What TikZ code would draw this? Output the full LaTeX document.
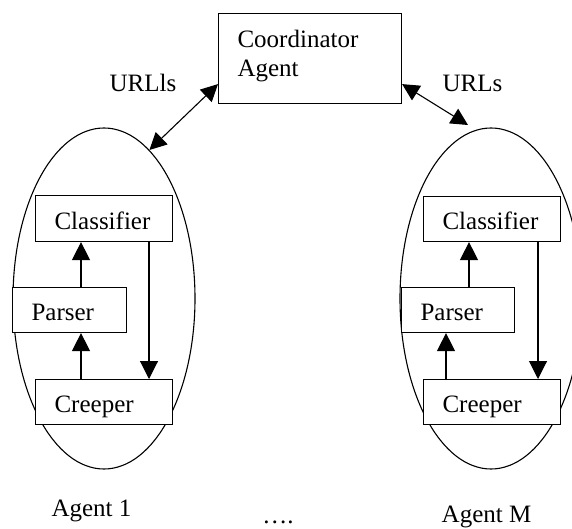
\documentclass[tikz,border=0pt]{standalone}
\usepackage{fontspec}
\setmainfont{Liberation Serif}
\usetikzlibrary{arrows.meta,shapes.geometric}
\begin{document}
\begin{tikzpicture}[x=1pt,y=-1pt,
  every node/.style={font=\fontsize{25}{29}\selectfont},
  box/.style={draw, fill=white, line width=1.1pt, inner sep=0pt, anchor=north west,
    align=left, text height=21pt, text depth=0pt},
  agent/.style={draw, ellipse, line width=1.1pt, minimum width=182pt,
    minimum height=341pt, inner sep=0pt},
  arr/.style={line width=1.1pt, -{Triangle[length=18pt,width=18pt]}},
  darr/.style={line width=1.1pt,
    {Triangle[length=17pt,width=17pt]}-{Triangle[length=17pt,width=17pt]}},
  lbl/.style={anchor=base, inner sep=0pt}]
\useasboundingbox (0,0) rectangle (572,529);
\clip (0,0) rectangle (572,529);

% coordinator
\node[box, minimum width=183pt, minimum height=90pt, text width=145pt,
  text height=18pt, text depth=40pt] (coord) at (218,13) {Coordinator\\Agent};

% agents
\node[agent] (agentA) at (104,298.5) {};
\node[agent] (agentM) at (491,298.5) {};

% left agent boxes
\node[box, minimum width=137pt, minimum height=46pt, text width=99pt] (classA) at (35,195) {Classifier};
\node[box, minimum width=114pt, minimum height=45pt, text width=76pt] (parserA) at (12,287) {Parser};
\node[box, minimum width=137pt, minimum height=45pt, text width=99pt] (creepA) at (35,379) {Creeper};

% right agent boxes
\node[box, minimum width=137pt, minimum height=45pt, text width=99pt] (classM) at (423,196) {Classifier};
\node[box, minimum width=113pt, minimum height=45pt, text width=75pt] (parserM) at (401,287) {Parser};
\node[box, minimum width=137pt, minimum height=45pt, text width=99pt] (creepM) at (423,379) {Creeper};

% inner arrows left
\draw[arr] ([xshift=46pt]classA.south west |- parserA.north) -- ([xshift=46pt]classA.south west);
\draw[arr] ([xshift=46pt]classA.south west |- creepA.north) -- ([xshift=46pt]classA.south west |- parserA.south);
\draw[arr] ([xshift=114pt]classA.south west) -- ([xshift=114pt]classA.south west |- creepA.north);

% inner arrows right
\draw[arr] ([xshift=46pt]classM.south west |- parserM.north) -- ([xshift=46pt]classM.south west);
\draw[arr] ([xshift=23pt]classM.south west |- creepM.north) -- ([xshift=23pt]classM.south west |- parserM.south);
\draw[arr] ([xshift=115pt]classM.south west) -- ([xshift=115pt]classM.south west |- creepM.north);

% coordinator connections
\coordinate (mtip) at (468,125);
\draw[darr] ([yshift=20pt]coord.south west) -- (agentA.73);
\draw[darr] ([yshift=20pt]coord.south east) -- (mtip);

% labels
\node[lbl] (urlA) at (143,92) {URLls};
\node[lbl] (urlM) at (472.5,92) {URLs};
\node[lbl] (nameA) at (91.5,516) {Agent 1};
\node[lbl] (nameM) at (486.5,522) {Agent M};
\node[lbl] (dots) at (278,523) {….};
\end{tikzpicture}
\end{document}
